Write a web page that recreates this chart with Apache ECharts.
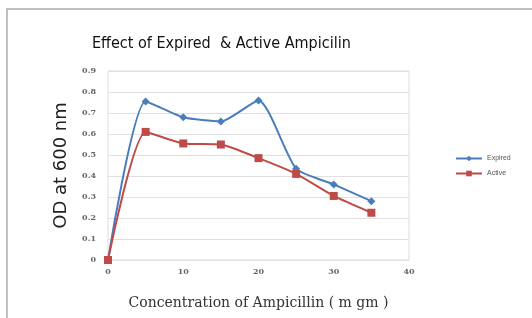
<!DOCTYPE html>
<html><head><meta charset="utf-8">
<script src="https://cdn.jsdelivr.net/npm/echarts@6/dist/echarts.min.js"></script>
<style>html,body{margin:0;padding:0;background:#fff}#c{width:532px;height:318px}</style>
</head><body><div id="c"></div>
<script>
const xValues = [0, 5, 10, 15, 20, 25, 30, 35];
const expired = [0, 0.755, 0.68, 0.66, 0.76, 0.435, 0.36, 0.28];
const active = [0, 0.61, 0.555, 0.55, 0.485, 0.41, 0.305, 0.225];
const seriesNames = ['Expired', 'Active'];
const titleText = 'Effect of Expired  & Active Ampicilin';
const xName = 'Concentration of Ampicillin ( m gm )';
const yName = 'OD at 600 nm';

const chart = echarts.init(document.getElementById('c'));
const tickFont = {color:'#666', fontSize:8, fontFamily:'DejaVu Serif', fontWeight:'bold'};
chart.setOption({
  animation:false,
  graphic:[{type:'rect', shape:{x:7,y:9,width:540,height:320}, style:{fill:'none', stroke:'#aaa', lineWidth:1.5}, silent:true}],
  title:{text:titleText, left:87, top:31, textStyle:{fontFamily:"'DejaVu Sans Condensed', 'Liberation Sans'", fontSize:16, fontWeight:'normal', color:'#111'}},
  legend:{orient:'vertical', left:450, top:150, itemWidth:26, itemHeight:7, itemGap:8, data:seriesNames,
    textStyle:{fontSize:7, color:'#555', fontFamily:'Liberation Sans'}},
  grid:{left:108, right:123, top:71, bottom:58, show:true, borderColor:'#ddd', borderWidth:1},
  xAxis:{type:'value', min:0, max:40, interval:10, name:xName, nameLocation:'middle', nameGap:36,
    nameTextStyle:{fontFamily:'DejaVu Serif', fontSize:14, color:'#333'},
    axisLine:{show:false}, axisTick:{show:false}, splitLine:{show:false}, axisLabel:Object.assign({margin:8}, tickFont)},
  yAxis:{type:'value', min:0, max:0.9, interval:0.1, name:yName, nameLocation:'middle', nameGap:38,
    nameTextStyle:{fontFamily:'DejaVu Sans', fontSize:18, color:'#222'},
    axisLine:{show:false}, axisTick:{show:false}, splitLine:{lineStyle:{color:'#e0e0e0'}},
    axisLabel:Object.assign({margin:12, formatter:v=>String(Math.round(v*10)/10)}, tickFont)},
  series:[
    {name:seriesNames[0], type:'line', smooth:0.2, data:xValues.map((x,i)=>[x,expired[i]]),
      symbol:'diamond', symbolSize:8, lineStyle:{color:'#4a7ebb', width:2}, itemStyle:{color:'#4a7ebb'}},
    {name:seriesNames[1], type:'line', smooth:0.2, data:xValues.map((x,i)=>[x,active[i]]),
      symbol:'rect', symbolSize:8, lineStyle:{color:'#be4b48', width:2}, itemStyle:{color:'#be4b48'}}
  ]
});
</script></body></html>
